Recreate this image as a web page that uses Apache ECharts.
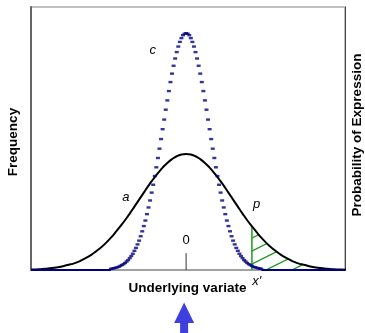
<!DOCTYPE html>
<html><head><meta charset="utf-8">
<script src="https://cdn.jsdelivr.net/npm/echarts@6/dist/echarts.min.js"></script>
<style>html,body{margin:0;padding:0;background:#fff}#c{width:365px;height:333px}</style>
</head><body><div id="c"></div>
<script>
// Underlying variate axis range (units of SD of curve a)
const xMin = -3.3, xMax = 3.38;
const yMax = 0.904;

// Curve a (wide, solid black): frequency at x = aStart + i*aStep
const aStart = -3.3, aStep = 0.1;
const aValues = [0.002,0.002,0.003,0.004,0.006,0.008,0.010,0.014,0.018,0.022,0.028,0.036,0.044,0.054,0.066,0.079,0.094,0.111,0.130,0.150,0.171,0.194,0.218,0.242,0.266,0.290,0.312,0.333,0.352,0.368,0.381,0.391,0.397,
 0.399,
 0.397,0.391,0.381,0.368,0.352,0.333,0.312,0.290,0.266,0.242,0.218,0.194,0.171,0.150,0.130,0.111,0.094,0.079,0.066,0.054,0.044,0.036,0.028,0.022,0.018,0.014,0.010,0.008,0.006,0.004,0.003,0.002,0.002,0.001];

// Curve c (narrow, dotted navy): frequency at x = cStart + i*cStep
const cStart = -1.6, cStep = 1/30;
const cValues = [0.004,0.005,0.006,0.008,0.009,0.011,0.014,0.017,0.020,0.024,0.029,0.034,0.041,0.048,0.056,0.066,0.076,0.088,0.101,0.116,0.133,0.151,0.170,0.192,0.215,0.239,0.266,0.293,0.323,0.353,0.385,0.417,0.450,0.484,0.517,0.551,0.583,0.615,0.646,0.675,0.702,0.727,0.749,0.768,0.784,0.797,0.807,0.812,
 0.814,
 0.812,0.807,0.797,0.784,0.768,0.749,0.727,0.702,0.675,0.646,0.615,0.583,0.551,0.517,0.484,0.450,0.417,0.385,0.353,0.323,0.293,0.266,0.239,0.215,0.192,0.170,0.151,0.133,0.116,0.101,0.088,0.076,0.066,0.056,0.048,0.041,0.034,0.029,0.024,0.020,0.017,0.014,0.011,0.009,0.008,0.006,0.005,0.004];
// c is zero outside its sampled range
const cTailLeft = [[-3.3, 0], [-1.6, 0]];
const cTailRight = [[1.6, 0], [3.38, 0]];

// Threshold x'
const threshold = 1.4;
const tickHeight = 0.058;

// Annotations
const annText = ['c', 'a', 'p', "x'", '0'];
const annX = [-0.71, -1.28, 1.50, 1.50, 0.0];
const annY = [0.754, 0.251, 0.227, -0.038, 0.103];
const annItalic = [true, true, true, true, false];

const aData = aValues.map((v, i) => [+(aStart + i * aStep).toFixed(4), v]);
const cData = cValues.map((v, i) => [cStart + i * cStep, v]);
const shadeData = aData.filter(d => d[0] >= threshold - 1e-9);
const thresholdLine = [[threshold, 0], [threshold, shadeData[0][1]]];

// hatch pattern
const pat = document.createElement('canvas');
pat.width = 26; pat.height = 13;
const g = pat.getContext('2d');
g.strokeStyle = '#1f9a1f'; g.lineWidth = 1.3;
for (const dy of [-13, 0, 13]) {
  g.beginPath(); g.moveTo(-26, 26 + dy); g.lineTo(52, -13 + dy); g.stroke();
}

const chart = echarts.init(document.getElementById('c'), null, {renderer: 'canvas'});
chart.setOption({
  animation: false,
  grid: {left: 31, right: 20, top: 7, bottom: 63, show: true, borderColor: '#aaa', borderWidth: 1.5},
  xAxis: {type: 'value', min: xMin, max: xMax, axisLine: {show: true, onZero: false, lineStyle: {color: '#999', width: 1.5}},
    axisTick: {show: false}, axisLabel: {show: false}, splitLine: {show: false}},
  yAxis: [
    {type: 'value', min: 0, max: yMax, axisLine: {show: true, onZero: false, lineStyle: {color: '#666', width: 2}},
     axisTick: {show: false}, axisLabel: {show: false}, splitLine: {show: false}},
    {type: 'value', position: 'right', min: 0, max: yMax, axisLine: {show: true, onZero: false, lineStyle: {color: '#444', width: 1}},
     axisTick: {show: false}, axisLabel: {show: false}, splitLine: {show: false}}
  ],
  series: [
    {type: 'line', data: shadeData, symbol: 'none', smooth: true, lineStyle: {width: 0},
     areaStyle: {color: {image: pat, repeat: 'repeat'}, opacity: 1}, z: 1},
    {type: 'line', data: thresholdLine, symbol: 'none', lineStyle: {color: '#1f9a1f', width: 1.5}, z: 2},
    {type: 'line', data: [[0, 0], [0, tickHeight]], symbol: 'none', lineStyle: {color: '#333', width: 1}, z: 2},
    {type: 'line', data: aData, symbol: 'none', smooth: true, lineStyle: {color: '#000', width: 2}, z: 3},
    {type: 'line', data: cTailLeft, symbol: 'none', lineStyle: {color: '#000080', width: 2}, z: 4},
    {type: 'line', data: cTailRight, symbol: 'none', lineStyle: {color: '#000080', width: 2}, z: 4},
    {type: 'scatter', data: cData, symbol: 'rect', symbolSize: [4, 2.4], itemStyle: {color: '#000080'}, z: 5}
  ]
});

const elements = [];
annText.forEach((t, i) => {
  const p = chart.convertToPixel({gridIndex: 0}, [annX[i], annY[i]]);
  elements.push({type: 'text', x: p[0], y: p[1], z: 10, style: {text: t, fill: '#000',
    font: (annItalic[i] ? 'italic ' : '') + '13px "Liberation Sans", Arial, sans-serif', align: 'center', verticalAlign: 'middle'}});
});
const titleFont = 'bold 13.5px "Liberation Sans", Arial, sans-serif';
elements.push({type: 'text', x: 13.5, y: 142, rotation: Math.PI / 2, style: {text: 'Frequency', font: titleFont, fill: '#000', align: 'center', verticalAlign: 'middle'}});
elements.push({type: 'text', x: 357, y: 135, rotation: Math.PI / 2, style: {text: 'Probability of Expression', font: titleFont, fill: '#000', align: 'center', verticalAlign: 'middle'}});
elements.push({type: 'text', x: 187.5, y: 288, style: {text: 'Underlying variate', font: titleFont, fill: '#000', align: 'center', verticalAlign: 'middle'}});
const ax = chart.convertToPixel({gridIndex: 0}, [0, 0])[0] - 2;
elements.push({type: 'polygon', z: 10, shape: {points: [[ax, 302.5], [ax + 10, 323], [ax + 4, 323], [ax + 4, 334], [ax - 4, 334], [ax - 4, 323], [ax - 10, 323]]},
  style: {fill: '#3f3fe0'}});
chart.setOption({graphic: {elements}});
</script></body></html>
